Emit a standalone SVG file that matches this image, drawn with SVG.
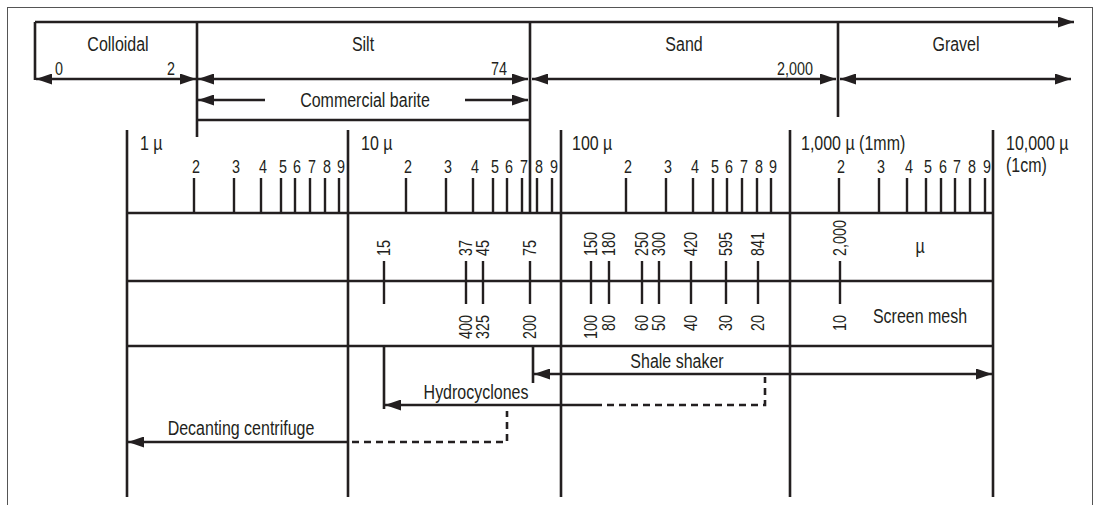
<svg xmlns="http://www.w3.org/2000/svg" width="1100" height="505" viewBox="0 0 1100 505">
<style>
.ln{stroke:#231f20;stroke-width:2.6;fill:none}
.tk{stroke:#231f20;stroke-width:2.4;fill:none}
.ds{stroke:#231f20;stroke-width:2.6;fill:none;stroke-dasharray:7 5}
.lb{font-family:"Liberation Sans",Arial,sans-serif;font-size:19.5px;fill:#231f20}
.dg{font-family:"Liberation Sans",Arial,sans-serif;font-size:17.5px;fill:#231f20}
.m{text-anchor:middle}.e{text-anchor:end}
</style>
<defs>
<marker id="ah" viewBox="0 0 16 11" refX="16" refY="5.5" markerWidth="16" markerHeight="11" markerUnits="userSpaceOnUse" orient="auto-start-reverse">
<path d="M0,0 L16,5.5 L0,11 z" fill="#231f20"/>
</marker>
</defs>
<rect x="7.5" y="7.5" width="1085" height="520" fill="#fff" stroke="#555" stroke-width="1"/>

<g id="classes">
<path class="ln" d="M35,22 V80 M197,22 V137 M530,22 V213 M838,22 V117 M197,120 H530"/>
<text class="lb m" transform="translate(118,51) scale(.82,1)">Colloidal</text>
<text class="lb m" transform="translate(363,51) scale(.82,1)">Silt</text>
<text class="lb m" transform="translate(684,51) scale(.82,1)">Sand</text>
<text class="lb m" transform="translate(956,51) scale(.82,1)">Gravel</text>
<text class="dg" transform="translate(55,75) scale(.82,1)">0</text>
<text class="dg m" transform="translate(171,75) scale(.82,1)">2</text>
<text class="dg e" transform="translate(507,75) scale(.82,1)">74</text>
<text class="dg e" transform="translate(813,75) scale(.82,1)">2,000</text>
<text class="lb m" transform="translate(365,107) scale(.82,1)">Commercial barite</text>
</g>

<g id="scale">
<path class="ln" d="M127,130 V497 M348,130 V497 M561,130 V497 M790,130 V497 M993,130 V497 M127,213 H993 M127,281 H993 M127,346 H993"/>
<path class="tk" d="M194,178V213 M234,178V213 M261,178V213 M281,178V213 M295,178V213 M310,178V213 M325,178V213 M339,178V213
M406,178V213 M446,178V213 M473,178V213 M493,178V213 M507,178V213 M522,178V213 M537,178V213 M552,178V213
M626,178V213 M666,178V213 M693,178V213 M713,178V213 M727,178V213 M742,178V213 M757,178V213 M771,178V213
M839,178V213 M879,178V213 M907,178V213 M926,178V213 M941,178V213 M955,178V213 M970,178V213 M985,178V213"/>
<g class="dg m">
<text transform="translate(196,173) scale(.82,1)">2</text><text transform="translate(236,173) scale(.82,1)">3</text><text transform="translate(263,173) scale(.82,1)">4</text><text transform="translate(283,173) scale(.82,1)">5</text><text transform="translate(297,173) scale(.82,1)">6</text><text transform="translate(312,173) scale(.82,1)">7</text><text transform="translate(327,173) scale(.82,1)">8</text><text transform="translate(341,173) scale(.82,1)">9</text>
<text transform="translate(408,173) scale(.82,1)">2</text><text transform="translate(448,173) scale(.82,1)">3</text><text transform="translate(475,173) scale(.82,1)">4</text><text transform="translate(495,173) scale(.82,1)">5</text><text transform="translate(509,173) scale(.82,1)">6</text><text transform="translate(524,173) scale(.82,1)">7</text><text transform="translate(539,173) scale(.82,1)">8</text><text transform="translate(554,173) scale(.82,1)">9</text>
<text transform="translate(628,173) scale(.82,1)">2</text><text transform="translate(668,173) scale(.82,1)">3</text><text transform="translate(695,173) scale(.82,1)">4</text><text transform="translate(715,173) scale(.82,1)">5</text><text transform="translate(729,173) scale(.82,1)">6</text><text transform="translate(744,173) scale(.82,1)">7</text><text transform="translate(759,173) scale(.82,1)">8</text><text transform="translate(773,173) scale(.82,1)">9</text>
<text transform="translate(841,173) scale(.82,1)">2</text><text transform="translate(881,173) scale(.82,1)">3</text><text transform="translate(909,173) scale(.82,1)">4</text><text transform="translate(928,173) scale(.82,1)">5</text><text transform="translate(943,173) scale(.82,1)">6</text><text transform="translate(957,173) scale(.82,1)">7</text><text transform="translate(972,173) scale(.82,1)">8</text><text transform="translate(987,173) scale(.82,1)">9</text>
</g>
<text class="lb" transform="translate(140,150) scale(.82,1)">1 µ</text>
<text class="lb" transform="translate(361,150) scale(.82,1)">10 µ</text>
<text class="lb" transform="translate(572,150) scale(.82,1)">100 µ</text>
<text class="lb" transform="translate(801,150) scale(.82,1)">1,000 µ (1mm)</text>
<text class="lb" transform="translate(1006,150) scale(.82,1)">10,000 µ</text>
<text class="lb" transform="translate(1006,172) scale(.82,1)">(1cm)</text>
</g>

<g id="sizes">
<path class="tk" d="M384,261V304 M466,261V304 M483,261V304 M530,261V304 M591,261V304 M609,261V304 M642,261V304 M659,261V304 M691,261V304 M726,261V304 M758,261V304 M840,261V304"/>
<g class="dg">
<text transform="translate(390,256) rotate(-90) scale(.82,1)">15</text>
<text transform="translate(472,256) rotate(-90) scale(.82,1)">37</text>
<text transform="translate(489,256) rotate(-90) scale(.82,1)">45</text>
<text transform="translate(536,256) rotate(-90) scale(.82,1)">75</text>
<text transform="translate(597,256) rotate(-90) scale(.82,1)">150</text>
<text transform="translate(615,256) rotate(-90) scale(.82,1)">180</text>
<text transform="translate(648,256) rotate(-90) scale(.82,1)">250</text>
<text transform="translate(665,256) rotate(-90) scale(.82,1)">300</text>
<text transform="translate(697,256) rotate(-90) scale(.82,1)">420</text>
<text transform="translate(732,256) rotate(-90) scale(.82,1)">595</text>
<text transform="translate(764,256) rotate(-90) scale(.82,1)">841</text>
<text transform="translate(846,256) rotate(-90) scale(.82,1)">2,000</text>
</g>
<g class="dg e">
<text transform="translate(472,315) rotate(-90) scale(.82,1)">400</text>
<text transform="translate(489,315) rotate(-90) scale(.82,1)">325</text>
<text transform="translate(536,315) rotate(-90) scale(.82,1)">200</text>
<text transform="translate(597,315) rotate(-90) scale(.82,1)">100</text>
<text transform="translate(615,315) rotate(-90) scale(.82,1)">80</text>
<text transform="translate(648,315) rotate(-90) scale(.82,1)">60</text>
<text transform="translate(665,315) rotate(-90) scale(.82,1)">50</text>
<text transform="translate(697,315) rotate(-90) scale(.82,1)">40</text>
<text transform="translate(732,315) rotate(-90) scale(.82,1)">30</text>
<text transform="translate(764,315) rotate(-90) scale(.82,1)">20</text>
<text transform="translate(846,315) rotate(-90) scale(.82,1)">10</text>
</g>
<text class="lb m" transform="translate(920,253) scale(.82,1)">µ</text>
<text class="lb m" transform="translate(920,323) scale(.82,1)">Screen mesh</text>
</g>

<g id="equipment">
<path class="ln" d="M533,347 V383 M384,346 V409"/>
<text class="lb m" transform="translate(677,368) scale(.82,1)">Shale shaker</text>
<text class="lb m" transform="translate(476,399) scale(.82,1)">Hydrocyclones</text>
<text class="lb m" transform="translate(241,435) scale(.82,1)">Decanting centrifuge</text>
</g>

<g id="connectors">
<path class="ln" d="M35,22 H1074" marker-end="url(#ah)"/>
<path class="ln" d="M36,79 H196" marker-start="url(#ah)" marker-end="url(#ah)"/>
<path class="ln" d="M198,79 H528" marker-start="url(#ah)" marker-end="url(#ah)"/>
<path class="ln" d="M532,79 H836" marker-start="url(#ah)" marker-end="url(#ah)"/>
<path class="ln" d="M840,79 H1071" marker-start="url(#ah)" marker-end="url(#ah)"/>
<path class="ln" d="M265,100 H198" marker-end="url(#ah)"/>
<path class="ln" d="M465,100 H528" marker-end="url(#ah)"/>
<path class="ln" d="M534,374 H992" marker-start="url(#ah)" marker-end="url(#ah)"/>
<path class="ln" d="M595,405 H385" marker-end="url(#ah)"/>
<path class="ds" d="M595,405 H765 V377"/>
<path class="ln" d="M340,442 H128" marker-end="url(#ah)"/>
<path class="ds" d="M340,442 H507 V411"/>
</g>
</svg>
